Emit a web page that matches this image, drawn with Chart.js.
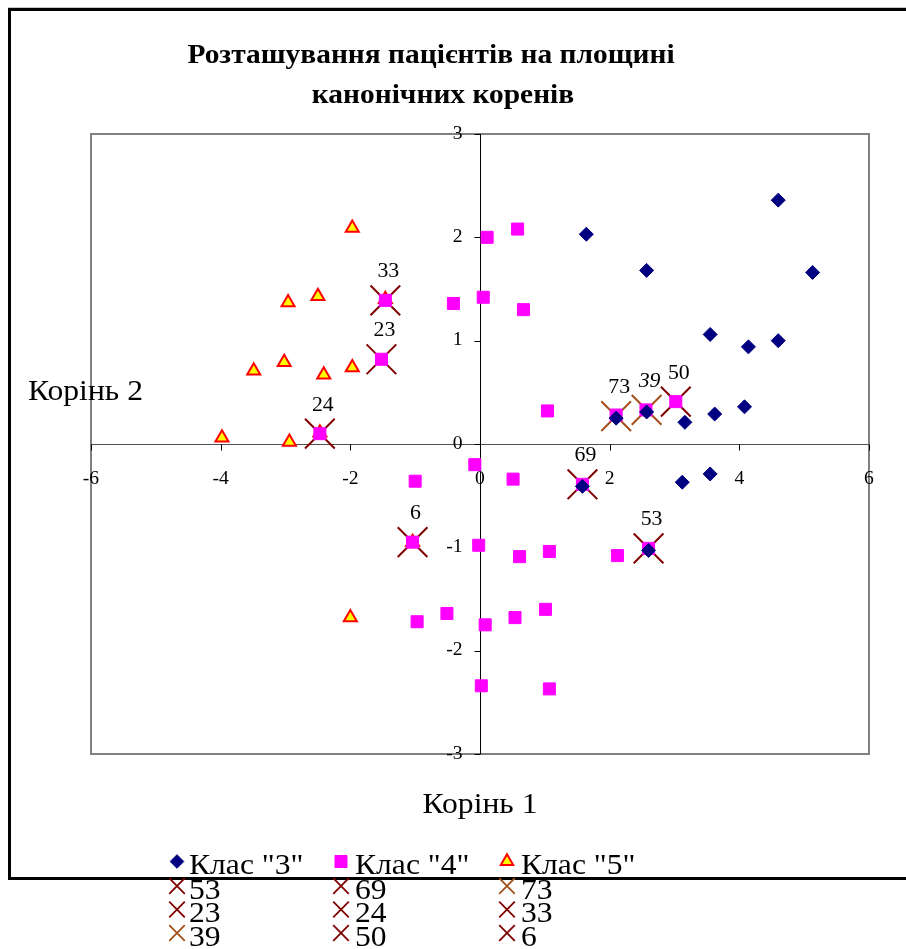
<!DOCTYPE html>
<html>
<head>
<meta charset="utf-8">
<script src="https://cdn.jsdelivr.net/npm/chart.js@4/dist/chart.umd.min.js"></script>
<style>
html,body{margin:0;padding:0;background:#fff;overflow:hidden}
#wrap{position:relative;width:906px;height:949px}
canvas{display:block}
</style>
</head>
<body>
<div id="wrap"><canvas id="c" width="906" height="949"></canvas></div>
<script>
// ---------- data ----------
const titleLines = ['Розташування пацієнтів на площині', 'канонічних коренів'];
const xAxisTitle = 'Корінь 1';
const yAxisTitle = 'Корінь 2';
const xTickValues = [-6, -4, -2, 0, 2, 4, 6];
const yTickValues = [-3, -2, -1, 0, 1, 2, 3];

const seriesNames = ['Клас "3"', 'Клас "4"', 'Клас "5"'];

const class3X = [1.64, 2.57, 4.60, 5.13, 3.55, 4.14, 4.60, 3.16, 3.62, 4.08, 3.12, 3.55, 2.10, 2.57, 1.58, 2.60];
const class3Y = [2.03, 1.68, 2.36, 1.66, 1.06, 0.94, 1.00, 0.21, 0.29, 0.36, -0.37, -0.29, 0.25, 0.31, -0.41, -1.03];

const class4X = [0.11, 0.58, 0.05, 0.67, -0.41, 1.04, 2.10, 2.56, 3.02, -1.46, -1.52, -2.47, -0.08, -1.00, 0.51, 1.58, -1.04, -0.02, 0.61, 1.07, 2.12, 2.60, -0.97, -0.51, 0.08, 0.54, 1.01, 0.02, 1.07];
const class4Y = [2.00, 2.08, 1.42, 1.30, 1.36, 0.32, 0.28, 0.33, 0.41, 1.39, 0.82, 0.10, -0.20, -0.36, -0.34, -0.39, -0.95, -0.98, -1.09, -1.04, -1.08, -1.01, -1.72, -1.64, -1.75, -1.68, -1.60, -2.34, -2.37];

const class5X = [-1.97, -2.96, -2.50, -3.02, -3.49, -2.41, -1.97, -3.98, -2.94, -2.47, -1.46, -2.00, -1.04];
const class5Y = [2.09, 1.37, 1.43, 0.79, 0.71, 0.67, 0.74, 0.06, 0.02, 0.11, 1.40, -1.68, -0.95];

// marked patients (single-point series), in legend order
const markedIds = ['53', '69', '73', '23', '24', '33', '39', '50', '6'];
const markedX = [2.60, 1.58, 2.10, -1.52, -2.47, -1.46, 2.57, 3.02, -1.04];
const markedY = [-1.01, -0.39, 0.27, 0.82, 0.10, 1.39, 0.33, 0.41, -0.95];

// ---------- styles ----------
const SERIF = '"Liberation Serif", "Times New Roman", "DejaVu Serif", serif';
const TEXT_SX = 1.09; // horizontal stretch of all text in the reference
const DARK_RED = '#800000';
const BROWN = '#A4501A';
const markedColors = [DARK_RED, DARK_RED, BROWN, DARK_RED, DARK_RED, DARK_RED, BROWN, DARK_RED, DARK_RED];
const italicIds = ['39'];

const toPts = (xs, ys) => xs.map((x, i) => ({x: x, y: ys[i]}));

const datasets = [
  {label: seriesNames[0], data: toPts(class3X, class3Y), pointStyle: 'rectRot', pointRadius: 7,
   backgroundColor: '#000080', borderColor: '#000080', pointBorderWidth: 1, legendRadius: 6.8},
  {label: seriesNames[1], data: toPts(class4X, class4Y), pointStyle: 'rect', pointRadius: 8.5,
   backgroundColor: '#FF00FF', borderColor: '#FF00FF', pointBorderWidth: 1, legendRadius: 8.5},
  {label: seriesNames[2], data: toPts(class5X, class5Y), pointStyle: 'triangle', pointRadius: 7.5,
   backgroundColor: '#FFFF00', borderColor: '#FF0000', pointBorderWidth: 2, legendRadius: 7.2}
];
markedIds.forEach((id, i) => {
  datasets.push({label: id, data: [{x: markedX[i], y: markedY[i]}], pointStyle: 'crossRot', pointRadius: 21,
    backgroundColor: markedColors[i], borderColor: markedColors[i], pointBorderWidth: 2,
    legendRadius: 11, isMarked: true});
});
datasets.forEach(d => { d.showLine = false; d.clip = false; d.pointHoverRadius = d.pointRadius; });

function drawMarker(ctx, style, r, x, y, fill, stroke, lw) {
  ctx.save();
  ctx.fillStyle = fill; ctx.strokeStyle = stroke; ctx.lineWidth = lw;
  if (Chart.helpers && Chart.helpers.drawPoint) {
    Chart.helpers.drawPoint(ctx, {pointStyle: style, radius: r, rotation: 0, borderWidth: lw}, x, y);
  } else {
    ctx.beginPath();
    if (style === 'rectRot') { ctx.moveTo(x, y - r); ctx.lineTo(x + r, y); ctx.lineTo(x, y + r); ctx.lineTo(x - r, y); ctx.closePath(); }
    else if (style === 'rect') { const s = r * Math.SQRT1_2; ctx.rect(x - s, y - s, 2 * s, 2 * s); }
    else if (style === 'triangle') { ctx.moveTo(x, y - r); ctx.lineTo(x + r * 0.866, y + r / 2); ctx.lineTo(x - r * 0.866, y + r / 2); ctx.closePath(); }
    else { const s = r * Math.SQRT1_2; ctx.moveTo(x - s, y - s); ctx.lineTo(x + s, y + s); ctx.moveTo(x + s, y - s); ctx.lineTo(x - s, y + s); }
    if (style !== 'crossRot') ctx.fill();
    ctx.stroke();
  }
  ctx.restore();
}

function text(ctx, s, x, y, align, baseline) {
  ctx.save();
  ctx.translate(x, y);
  ctx.scale(TEXT_SX, 1);
  ctx.textAlign = align;
  ctx.textBaseline = baseline || 'alphabetic';
  ctx.fillText(s, 0, 0);
  ctx.restore();
}

const framePlugin = {
  id: 'frame',
  beforeDraw(chart) {
    const ctx = chart.ctx;
    ctx.save();
    ctx.fillStyle = '#fff';
    ctx.fillRect(0, 0, chart.width, chart.height);
    ctx.strokeStyle = '#c8c8c8'; ctx.lineWidth = 1;
    ctx.beginPath(); ctx.moveTo(8, 7.5); ctx.lineTo(chart.width, 7.5); ctx.stroke();
    ctx.strokeStyle = '#000'; ctx.lineWidth = 3;
    ctx.strokeRect(9.5, 9.5, chart.width + 20, 869);
    ctx.restore();
  },
  beforeDatasetsDraw(chart) {
    const ctx = chart.ctx, a = chart.chartArea, xs = chart.scales.x, ys = chart.scales.y;
    ctx.save();
    ctx.strokeStyle = '#808080'; ctx.lineWidth = 2;
    ctx.strokeRect(a.left, a.top, a.right - a.left, a.bottom - a.top);
    const x0 = Math.round(xs.getPixelForValue(0)) + 0.5;
    const y0 = Math.round(ys.getPixelForValue(0)) + 0.5;
    ctx.lineWidth = 1;
    ctx.strokeStyle = '#505050';
    ctx.beginPath(); ctx.moveTo(a.left, y0); ctx.lineTo(a.right, y0); ctx.stroke();
    ctx.strokeStyle = '#000';
    ctx.beginPath();
    xTickValues.forEach(v => { const px = Math.round(xs.getPixelForValue(v)) + 0.5; ctx.moveTo(px, y0); ctx.lineTo(px, y0 + 6); });
    ctx.stroke();
    ctx.beginPath(); ctx.moveTo(x0, a.top); ctx.lineTo(x0, a.bottom); ctx.stroke();
    ctx.beginPath();
    yTickValues.forEach(v => { const py = Math.round(ys.getPixelForValue(v)) + 0.5; ctx.moveTo(x0, py); ctx.lineTo(x0 - 6, py); });
    ctx.stroke();
    ctx.fillStyle = '#000';
    ctx.font = '18px ' + SERIF;
    xTickValues.forEach(v => text(ctx, String(v), xs.getPixelForValue(v), y0 + 39, 'center'));
    yTickValues.forEach(v => text(ctx, String(v), x0 - 18, ys.getPixelForValue(v), 'right', 'middle'));
    ctx.restore();
  },
  afterDatasetsDraw(chart) {
    const ctx = chart.ctx;
    ctx.save();
    ctx.fillStyle = '#000';
    chart.data.datasets.forEach((d, i) => {
      if (!d.isMarked) return;
      const el = chart.getDatasetMeta(i).data[0];
      ctx.font = (italicIds.includes(d.label) ? 'italic ' : '') + '20px ' + SERIF;
      text(ctx, d.label, el.x + 3, el.y - 23, 'center');
    });
    ctx.font = '29px ' + SERIF;
    text(ctx, xAxisTitle, (chart.chartArea.left + chart.chartArea.right) / 2, 813, 'center');
    text(ctx, yAxisTitle, 28, 400, 'left');
    ctx.font = 'bold 27px ' + SERIF;
    text(ctx, titleLines[0], 431, 63, 'center');
    text(ctx, titleLines[1], 443, 103, 'center');
    const colMarkerX = [177, 341, 507], colTextX = [189, 355, 521];
    const rowBase = [874, 898.5, 922, 945.5];
    chart.data.datasets.forEach((d, i) => {
      const col = i % 3, row = Math.floor(i / 3);
      const my = rowBase[row] - 12.5;
      drawMarker(ctx, d.pointStyle, d.legendRadius, colMarkerX[col], my, d.backgroundColor, d.borderColor, d.isMarked ? 1.8 : d.pointBorderWidth);
      ctx.fillStyle = '#000';
      ctx.font = '29px ' + SERIF;
      text(ctx, d.label, colTextX[col], rowBase[row], 'left');
    });
    ctx.restore();
  }
};

new Chart(document.getElementById('c'), {
  type: 'scatter',
  data: {datasets: datasets},
  options: {
    responsive: false,
    animation: false,
    devicePixelRatio: 1,
    layout: {padding: {left: 91, right: 37, top: 134, bottom: 195}},
    scales: {
      x: {type: 'linear', min: -6, max: 6, display: false},
      y: {type: 'linear', min: -3, max: 3, display: false}
    },
    plugins: {legend: {display: false}, title: {display: false}, tooltip: {enabled: false}},
    events: []
  },
  plugins: [framePlugin]
});
</script>
</body>
</html>
